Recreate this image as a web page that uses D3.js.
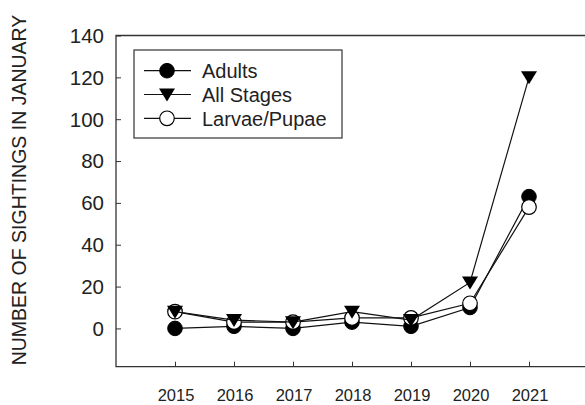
<!DOCTYPE html>
<html>
<head>
<meta charset="utf-8">
<script src="https://cdn.jsdelivr.net/npm/d3@7"></script>
<style>
  body { margin: 0; background: #fff; }
  text { font-family: "Liberation Sans", Arial, sans-serif; fill: #222; }
</style>
</head>
<body>
<svg id="chart" width="585" height="405"></svg>
<script>
// data
var years = [2015, 2016, 2017, 2018, 2019, 2020, 2021];
var adults = [0, 1, 0, 3, 1, 10, 63];
var allStages = [8, 4, 3, 8, 4, 22, 120];
var larvae = [8, 3, 3, 5, 5, 12, 58];
var yTicks = [0, 20, 40, 60, 80, 100, 120, 140];
var legendNames = ["Adults", "All Stages", "Larvae/Pupae"];

var svg = d3.select("#chart");

var x = d3.scaleLinear().domain([2014, 2022]).range([116, 588]);
var y = d3.scaleLinear().domain([-18.3, 140]).range([366.7, 35.5]);

// frame (right side runs off the picture)
svg.append("path")
  .attr("d", "M588,35.5 H116 V366.7 H588")
  .attr("fill", "none")
  .attr("stroke", "#333")
  .attr("stroke-width", 1.3);

// axes, ticks pointing inward
var yAxis = svg.append("g")
  .attr("transform", "translate(116,0)")
  .call(d3.axisRight(y).tickValues(yTicks).tickSize(5).tickFormat(""));
yAxis.select(".domain").remove();
yAxis.selectAll("line").attr("stroke", "#333");

svg.selectAll(".ylab")
  .data(yTicks)
  .enter().append("text")
  .attr("class", "ylab")
  .attr("x", 104)
  .attr("y", function(d) { return y(d); })
  .attr("dy", "0.36em")
  .attr("text-anchor", "end")
  .style("font-size", "20.5px")
  .text(function(d) { return d; });

var xAxis = svg.append("g")
  .attr("transform", "translate(0,366.7)")
  .call(d3.axisTop(x).tickValues(years).tickSize(5).tickFormat(""));
xAxis.select(".domain").remove();
xAxis.selectAll("line").attr("stroke", "#333");

svg.selectAll(".xlab")
  .data(years)
  .enter().append("text")
  .attr("class", "xlab")
  .attr("x", function(d) { return x(d) + 1; })
  .attr("y", 401)
  .attr("text-anchor", "middle")
  .style("font-size", "16.5px")
  .text(function(d) { return d; });

svg.append("text")
  .attr("transform", "translate(26,190) rotate(-90)")
  .attr("text-anchor", "middle")
  .style("font-size", "19.5px")
  .text("NUMBER OF SIGHTINGS IN JANUARY");

// marker drawers
function circleFilled(g) {
  g.append("circle").attr("r", 7.3).attr("fill", "#000").attr("stroke", "#000");
}
function circleOpen(g) {
  g.append("circle").attr("r", 7.3).attr("fill", "#fff").attr("stroke", "#000").attr("stroke-width", 1.2);
}
function triDown(g) {
  g.append("path").attr("d", "M-8,-6 L8,-6 L0,7 Z").attr("fill", "#000");
}

var line = d3.line()
  .x(function(d, i) { return x(years[i]); })
  .y(function(d) { return y(d); });

function drawSeries(vals, marker) {
  svg.append("path")
    .datum(vals)
    .attr("d", line)
    .attr("fill", "none")
    .attr("stroke", "#111")
    .attr("stroke-width", 1.2);
  vals.forEach(function(v, i) {
    var g = svg.append("g").attr("transform", "translate(" + x(years[i]) + "," + y(v) + ")");
    marker(g);
  });
}

drawSeries(adults, circleFilled);
drawSeries(larvae, circleOpen);
drawSeries(allStages, triDown);

// legend
var legend = svg.append("g");
legend.append("rect")
  .attr("x", 134).attr("y", 50)
  .attr("width", 208).attr("height", 88)
  .attr("fill", "#fff")
  .attr("stroke", "#333")
  .attr("stroke-width", 1.2);

var markers = [circleFilled, triDown, circleOpen];
legendNames.forEach(function(name, i) {
  var cy = 70.7 + i * 23.8;
  legend.append("line")
    .attr("x1", 144).attr("x2", 191)
    .attr("y1", cy).attr("y2", cy)
    .attr("stroke", "#111").attr("stroke-width", 1.2);
  var g = legend.append("g").attr("transform", "translate(167," + cy + ")");
  markers[i](g);
  legend.append("text")
    .attr("x", 202).attr("y", cy)
    .attr("dy", "0.36em")
    .style("font-size", "20px")
    .text(name);
});
</script>
</body>
</html>
